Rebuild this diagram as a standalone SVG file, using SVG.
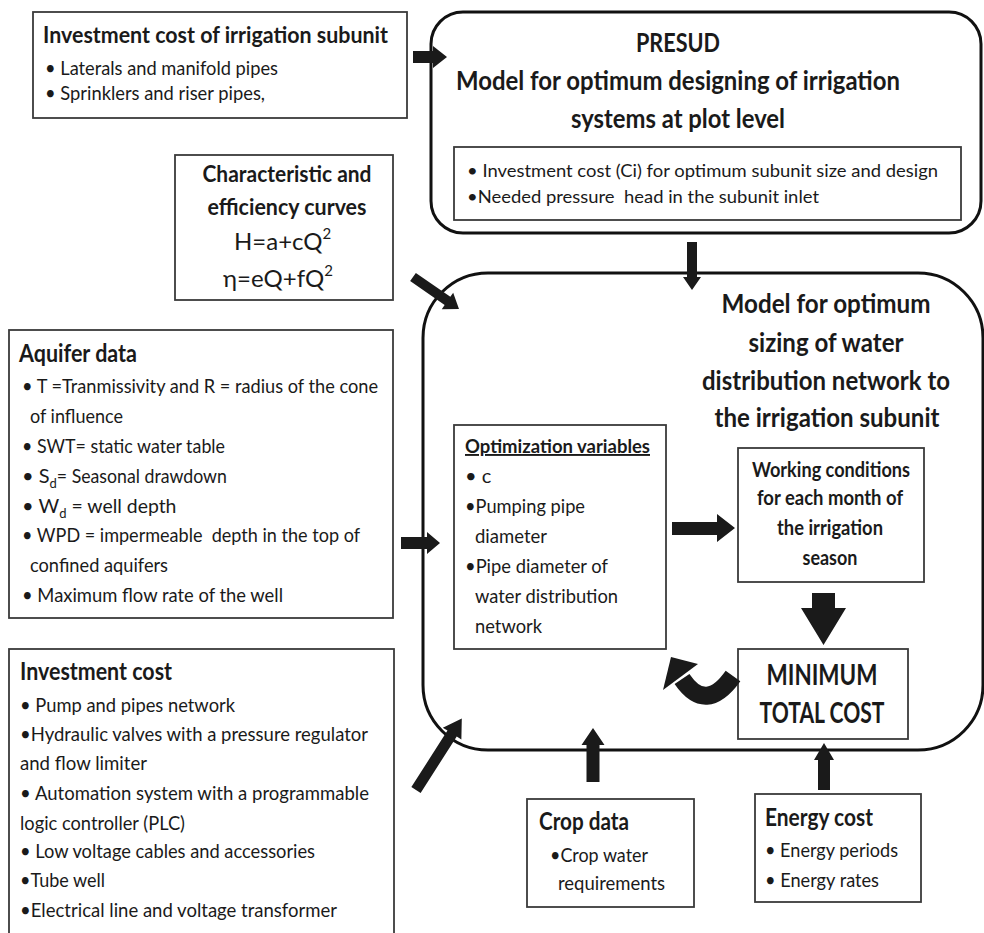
<svg xmlns="http://www.w3.org/2000/svg" width="984" height="933" viewBox="0 0 984 933">
<style>
text{font-family:Lato,"Liberation Sans",sans-serif;fill:#1a1a1a}
.b{font-weight:bold}
.t26{font-size:26px;font-weight:bold}
.t24{font-size:24px;font-weight:bold}
.t20{font-size:20px}
.t19{font-size:19px}
.t18{font-size:18px}
.c{text-anchor:middle}
.pre{white-space:pre}
.box{fill:#fff;stroke:#3a3a3a;stroke-width:1.8}
.big{fill:none;stroke:#111;stroke-width:3}
.arr{fill:#1a1a1a;stroke:none}
</style>
<rect width="984" height="933" fill="#fff"/>

<g id="presud">
<rect class="big" x="431" y="12" width="550" height="221" rx="32"/>
<text class="t26 c" x="678" y="52" textLength="84" lengthAdjust="spacingAndGlyphs">PRESUD</text>
<text class="t26 c" x="678" y="90" textLength="444" lengthAdjust="spacingAndGlyphs">Model for optimum designing of irrigation</text>
<text class="t26 c" x="678" y="128" textLength="214" lengthAdjust="spacingAndGlyphs">systems at plot level</text>
<rect class="box" x="454" y="147" width="507" height="73"/>
<text class="t18 pre" x="467" y="177" textLength="471" lengthAdjust="spacingAndGlyphs">• Investment cost (Ci) for optimum subunit size and design</text>
<text class="t18 pre" x="467" y="203" textLength="352" lengthAdjust="spacingAndGlyphs">•Needed pressure  head in the subunit inlet</text>
</g>

<g id="model">
<rect class="big" x="423" y="273" width="560" height="477" rx="65"/>
<text class="t26 c" x="826" y="313" textLength="209" lengthAdjust="spacingAndGlyphs">Model for optimum</text>
<text class="t26 c" x="826" y="352" textLength="155" lengthAdjust="spacingAndGlyphs">sizing of water</text>
<text class="t26 c" x="826" y="390" textLength="248" lengthAdjust="spacingAndGlyphs">distribution network to</text>
<text class="t26 c" x="827" y="427" textLength="225" lengthAdjust="spacingAndGlyphs">the irrigation subunit</text>
</g>

<g id="subunit-cost">
<rect class="box" x="33" y="12" width="374" height="106"/>
<text class="b" x="43" y="43" font-size="23" textLength="345" lengthAdjust="spacingAndGlyphs">Investment cost of irrigation subunit</text>
<text class="t19" x="45" y="75" textLength="233" lengthAdjust="spacingAndGlyphs">• Laterals and manifold pipes</text>
<text class="t19" x="45" y="100" textLength="220" lengthAdjust="spacingAndGlyphs">• Sprinklers and riser pipes,</text>
</g>

<g id="curves">
<rect class="box" x="175" y="155" width="218" height="145"/>
<text class="b c" x="287" y="182" font-size="22" textLength="169" lengthAdjust="spacingAndGlyphs">Characteristic and</text>
<text class="b c" x="287" y="215" font-size="22" textLength="159" lengthAdjust="spacingAndGlyphs">efficiency curves</text>
<text x="234" y="250" font-size="24">H=a+cQ<tspan font-size="15" dy="-11">2</tspan></text>
<text x="223" y="287" font-size="24">η=eQ+fQ<tspan font-size="15" dy="-11">2</tspan></text>
</g>

<g id="aquifer">
<rect class="box" x="9" y="330" width="384" height="288"/>
<text class="t24" x="19" y="362" textLength="118" lengthAdjust="spacingAndGlyphs">Aquifer data</text>
<text class="t20" x="22" y="393" textLength="356" lengthAdjust="spacingAndGlyphs">• T =Tranmissivity and R = radius of the cone</text>
<text class="t20" x="30" y="423" textLength="93" lengthAdjust="spacingAndGlyphs">of influence</text>
<text class="t20" x="22" y="453" textLength="203" lengthAdjust="spacingAndGlyphs">• SWT= static water table</text>
<text class="t20" x="22" y="483">• S<tspan font-size="13" dy="5">d</tspan><tspan dy="-5" textLength="170" lengthAdjust="spacingAndGlyphs">= Seasonal drawdown</tspan></text>
<text class="t20" x="22" y="513">• W<tspan font-size="13" dy="5">d</tspan><tspan dy="-5" textLength="110" lengthAdjust="spacingAndGlyphs"> = well depth</tspan></text>
<text class="t20 pre" x="22" y="542" textLength="338" lengthAdjust="spacingAndGlyphs">• WPD = impermeable  depth in the top of</text>
<text class="t20" x="30" y="572" textLength="138" lengthAdjust="spacingAndGlyphs">confined aquifers</text>
<text class="t20" x="22" y="602" textLength="261" lengthAdjust="spacingAndGlyphs">• Maximum flow rate of the well</text>
</g>

<g id="investment">
<rect class="box" x="9" y="649" width="385" height="300"/>
<text class="t24" x="20" y="680" textLength="152" lengthAdjust="spacingAndGlyphs">Investment cost</text>
<text class="t20" x="20" y="712" textLength="215" lengthAdjust="spacingAndGlyphs">• Pump and pipes network</text>
<text class="t20" x="20" y="741" textLength="348" lengthAdjust="spacingAndGlyphs">•Hydraulic valves with a pressure regulator</text>
<text class="t20" x="20" y="770" textLength="127" lengthAdjust="spacingAndGlyphs">and flow limiter</text>
<text class="t20" x="20" y="800" textLength="349" lengthAdjust="spacingAndGlyphs">• Automation system with a programmable</text>
<text class="t20" x="20" y="830" textLength="165" lengthAdjust="spacingAndGlyphs">logic controller (PLC)</text>
<text class="t20" x="20" y="858" textLength="295" lengthAdjust="spacingAndGlyphs">• Low voltage cables and accessories</text>
<text class="t20" x="20" y="887" textLength="85" lengthAdjust="spacingAndGlyphs">•Tube well</text>
<text class="t20" x="20" y="917" textLength="317" lengthAdjust="spacingAndGlyphs">•Electrical line and voltage transformer</text>
</g>

<g id="optvars">
<rect class="box" x="454" y="425" width="212" height="224"/>
<text class="b" x="465" y="453" font-size="19" text-decoration="underline" textLength="185" lengthAdjust="spacingAndGlyphs">Optimization variables</text>
<text class="t20" x="465" y="483">• c</text>
<text class="t20" x="465" y="513" textLength="120" lengthAdjust="spacingAndGlyphs">•Pumping pipe</text>
<text class="t20" x="475" y="543" textLength="72" lengthAdjust="spacingAndGlyphs">diameter</text>
<text class="t20" x="465" y="573" textLength="143" lengthAdjust="spacingAndGlyphs">•Pipe diameter of</text>
<text class="t20" x="475" y="603" textLength="143" lengthAdjust="spacingAndGlyphs">water distribution</text>
<text class="t20" x="475" y="633" textLength="67" lengthAdjust="spacingAndGlyphs">network</text>
</g>

<g id="working">
<rect class="box" x="738" y="448" width="186" height="134"/>
<text class="b c" x="831" y="477" font-size="20" textLength="158" lengthAdjust="spacingAndGlyphs">Working conditions</text>
<text class="b c" x="830" y="505" font-size="20" textLength="146" lengthAdjust="spacingAndGlyphs">for each month of</text>
<text class="b c" x="830" y="535" font-size="20" textLength="106" lengthAdjust="spacingAndGlyphs">the irrigation</text>
<text class="b c" x="830" y="565" font-size="20" textLength="55" lengthAdjust="spacingAndGlyphs">season</text>
</g>

<g id="mincost">
<rect class="box" x="738" y="649" width="170" height="90"/>
<text class="b c" x="822" y="685" font-size="28" textLength="111" lengthAdjust="spacingAndGlyphs">MINIMUM</text>
<text class="b c" x="822" y="723" font-size="28" textLength="125" lengthAdjust="spacingAndGlyphs">TOTAL COST</text>
</g>

<g id="crop">
<rect class="box" x="527" y="799" width="167" height="108"/>
<text class="t24" x="539" y="830" textLength="90" lengthAdjust="spacingAndGlyphs">Crop data</text>
<text class="t20" x="550" y="862" textLength="98" lengthAdjust="spacingAndGlyphs">•Crop water</text>
<text class="t20" x="558" y="890" textLength="107" lengthAdjust="spacingAndGlyphs">requirements</text>
</g>

<g id="energy">
<rect class="box" x="755" y="794" width="166" height="108"/>
<text class="t24" x="765" y="826" textLength="108" lengthAdjust="spacingAndGlyphs">Energy cost</text>
<text class="t20" x="765" y="857" textLength="133" lengthAdjust="spacingAndGlyphs">• Energy periods</text>
<text class="t20" x="765" y="887" textLength="114" lengthAdjust="spacingAndGlyphs">• Energy rates</text>
</g>

<g id="connectors">
<polygon class="arr" points="413,51 433,51 433,46 447,57 433,68 433,63 413,63"/>
<polygon class="arr" points="687,242 697,242 697,277 701,277 692,290 683,277 687,277"/>
<polygon class="arr" points="0,-5 42,-5 42,-10 56,0 42,10 42,5 0,5" transform="translate(413,277) rotate(34.8)"/>
<polygon class="arr" points="401,537 427,537 427,532 440,543 427,554 427,549 401,549"/>
<polygon class="arr" points="0,-5.5 67,-5.5 67,-11 85,0 67,11 67,5.5 0,5.5" transform="translate(416,790) rotate(-57.4)"/>
<polygon class="arr" points="672,522 717,522 717,514 735,528 717,542 717,535 672,535"/>
<polygon class="arr" points="812,593 835,593 835,608 846,608 823.5,645 801,608 812,608"/>
<polygon class="arr" points="586.5,782 586.5,745 581.5,745 593,728 604.5,745 599.5,745 599.5,782"/>
<polygon class="arr" points="818,790 818,760 814,760 824,743 834,760 830,760 830,790"/>
<path d="M733,676 Q706,714 682,679" fill="none" stroke="#1a1a1a" stroke-width="18"/>
<polygon class="arr" points="671,657 698,664 663,690"/>
</g>
</svg>
